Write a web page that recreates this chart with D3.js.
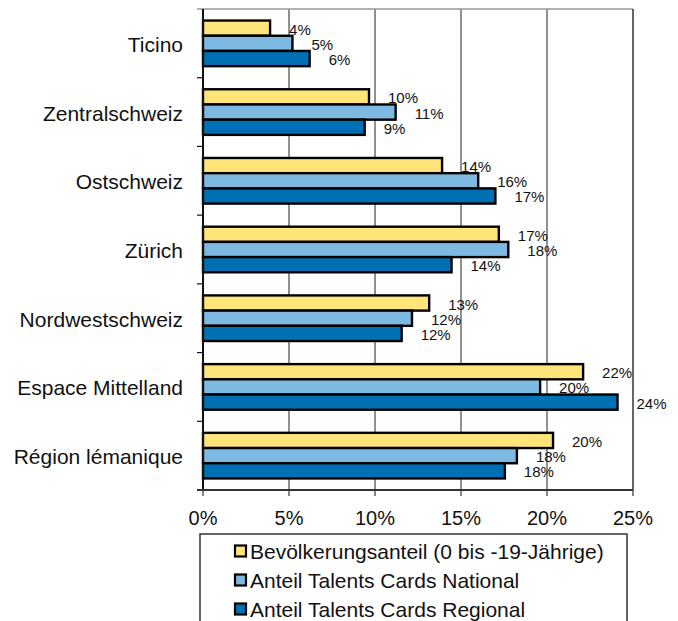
<!DOCTYPE html>
<html>
<head>
<meta charset="utf-8">
<script src="https://cdn.jsdelivr.net/npm/d3@7"></script>
<style>
  body { margin: 0; background: #fff; }
  svg { display: block; font-family: "Liberation Sans", Arial, sans-serif; }
</style>
</head>
<body>
<div id="chart"></div>
<script>
// values (percent)
const categories = ['Ticino', 'Zentralschweiz', 'Ostschweiz', 'Zürich', 'Nordwestschweiz', 'Espace Mittelland', 'Région lémanique'];
const seriesNames = ['Bevölkerungsanteil (0 bis -19-Jährige)', 'Anteil Talents Cards National', 'Anteil Talents Cards Regional'];
const bevoelkerung = [3.9, 9.65, 13.9, 17.2, 13.15, 22.1, 20.35];
const national = [5.2, 11.2, 16.0, 17.75, 12.15, 19.6, 18.25];
const regional = [6.2, 9.4, 17.0, 14.45, 11.55, 24.1, 17.55];
const xTicks = [0, 5, 10, 15, 20, 25];

const colors = ['#FFE47A', '#7DB9E0', '#0070B5'];
const seriesValues = [bevoelkerung, national, regional];

const width = 678, height = 621;
const plotLeft = 203, plotRight = 633, plotTop = 9, plotBottom = 490;

const svg = d3.select('#chart').append('svg')
  .attr('width', width)
  .attr('height', height);

const x = d3.scaleLinear().domain([0, 25]).range([plotLeft, plotRight]);
const y = d3.scaleBand().domain(categories).range([plotTop, plotBottom]).padding(0);
const ySub = d3.scaleBand()
  .domain(d3.range(seriesNames.length))
  .range([0, y.bandwidth()])
  .paddingInner(0)
  .paddingOuter(0.76);

// grid lines
svg.append('g')
  .selectAll('line')
  .data(xTicks.slice(1, -1))
  .enter()
  .append('line')
  .attr('x1', (d) => x(d))
  .attr('x2', (d) => x(d))
  .attr('y1', plotTop)
  .attr('y2', plotBottom)
  .attr('stroke', '#222')
  .attr('stroke-width', 1);

// frame: top grey, right dark
svg.append('line')
  .attr('x1', plotLeft - 6).attr('x2', plotRight)
  .attr('y1', plotTop).attr('y2', plotTop)
  .attr('stroke', '#999').attr('stroke-width', 1.5);
svg.append('line')
  .attr('x1', plotRight).attr('x2', plotRight)
  .attr('y1', plotTop).attr('y2', plotBottom)
  .attr('stroke', '#333').attr('stroke-width', 1.5);

// bars
const rows = [];
categories.forEach((c, i) => {
  seriesValues.forEach((vals, s) => rows.push({ cat: c, s: s, v: vals[i] }));
});

const g = svg.append('g');
g.selectAll('rect')
  .data(rows)
  .enter()
  .append('rect')
  .attr('x', x(0))
  .attr('y', (d) => y(d.cat) + ySub(d.s))
  .attr('width', (d) => x(d.v) - x(0))
  .attr('height', ySub.bandwidth())
  .attr('fill', (d) => colors[d.s])
  .attr('stroke', '#000')
  .attr('stroke-width', 2.4);

// value labels
g.selectAll('text')
  .data(rows)
  .enter()
  .append('text')
  .attr('x', (d) => x(d.v) + 19)
  .attr('y', (d) => y(d.cat) + ySub(d.s) + ySub.bandwidth() / 2 + 1)
  .attr('dominant-baseline', 'central')
  .attr('font-size', 15)
  .attr('fill', '#111')
  .text((d) => Math.round(d.v) + '%');

// y axis line + category ticks
svg.append('line')
  .attr('x1', plotLeft).attr('x2', plotLeft)
  .attr('y1', plotTop).attr('y2', plotBottom)
  .attr('stroke', '#111').attr('stroke-width', 2);
svg.append('g')
  .selectAll('line')
  .data(categories.slice(1))
  .enter()
  .append('line')
  .attr('x1', plotLeft - 6).attr('x2', plotLeft)
  .attr('y1', (d) => y(d)).attr('y2', (d) => y(d))
  .attr('stroke', '#111').attr('stroke-width', 1.2);

svg.append('g')
  .selectAll('text')
  .data(categories)
  .enter()
  .append('text')
  .attr('x', 183)
  .attr('y', (d) => y(d) + y.bandwidth() / 2 + 1)
  .attr('text-anchor', 'end')
  .attr('dominant-baseline', 'central')
  .attr('font-size', 21)
  .attr('fill', '#111')
  .text((d) => d);

// x axis
svg.append('line')
  .attr('x1', plotLeft - 6).attr('x2', plotRight)
  .attr('y1', plotBottom).attr('y2', plotBottom)
  .attr('stroke', '#333').attr('stroke-width', 2);
svg.append('g')
  .selectAll('line')
  .data(xTicks)
  .enter()
  .append('line')
  .attr('x1', (d) => x(d)).attr('x2', (d) => x(d))
  .attr('y1', plotBottom).attr('y2', plotBottom + 6)
  .attr('stroke', '#333').attr('stroke-width', 1.2);
svg.append('g')
  .selectAll('text')
  .data(xTicks)
  .enter()
  .append('text')
  .attr('x', (d) => x(d))
  .attr('y', 518)
  .attr('text-anchor', 'middle')
  .attr('dominant-baseline', 'central')
  .attr('font-size', 20)
  .attr('fill', '#111')
  .text((d) => d + '%');

// legend
const legend = svg.append('g');
legend.append('rect')
  .attr('x', 200).attr('y', 534)
  .attr('width', 427).attr('height', 100)
  .attr('fill', '#fff')
  .attr('stroke', '#333')
  .attr('stroke-width', 1.5);
const items = legend.selectAll('g.item')
  .data(seriesNames)
  .enter()
  .append('g')
  .attr('class', 'item')
  .attr('transform', (d, i) => 'translate(235,' + (551 + i * 29) + ')');
items.append('rect')
  .attr('x', 0).attr('y', -5.5)
  .attr('width', 11).attr('height', 11)
  .attr('fill', (d, i) => colors[i])
  .attr('stroke', '#000')
  .attr('stroke-width', 2.2);
items.append('text')
  .attr('x', 15)
  .attr('y', 0)
  .attr('dominant-baseline', 'central')
  .attr('font-size', 21)
  .attr('fill', '#111')
  .text((d) => d);
</script>
</body>
</html>
